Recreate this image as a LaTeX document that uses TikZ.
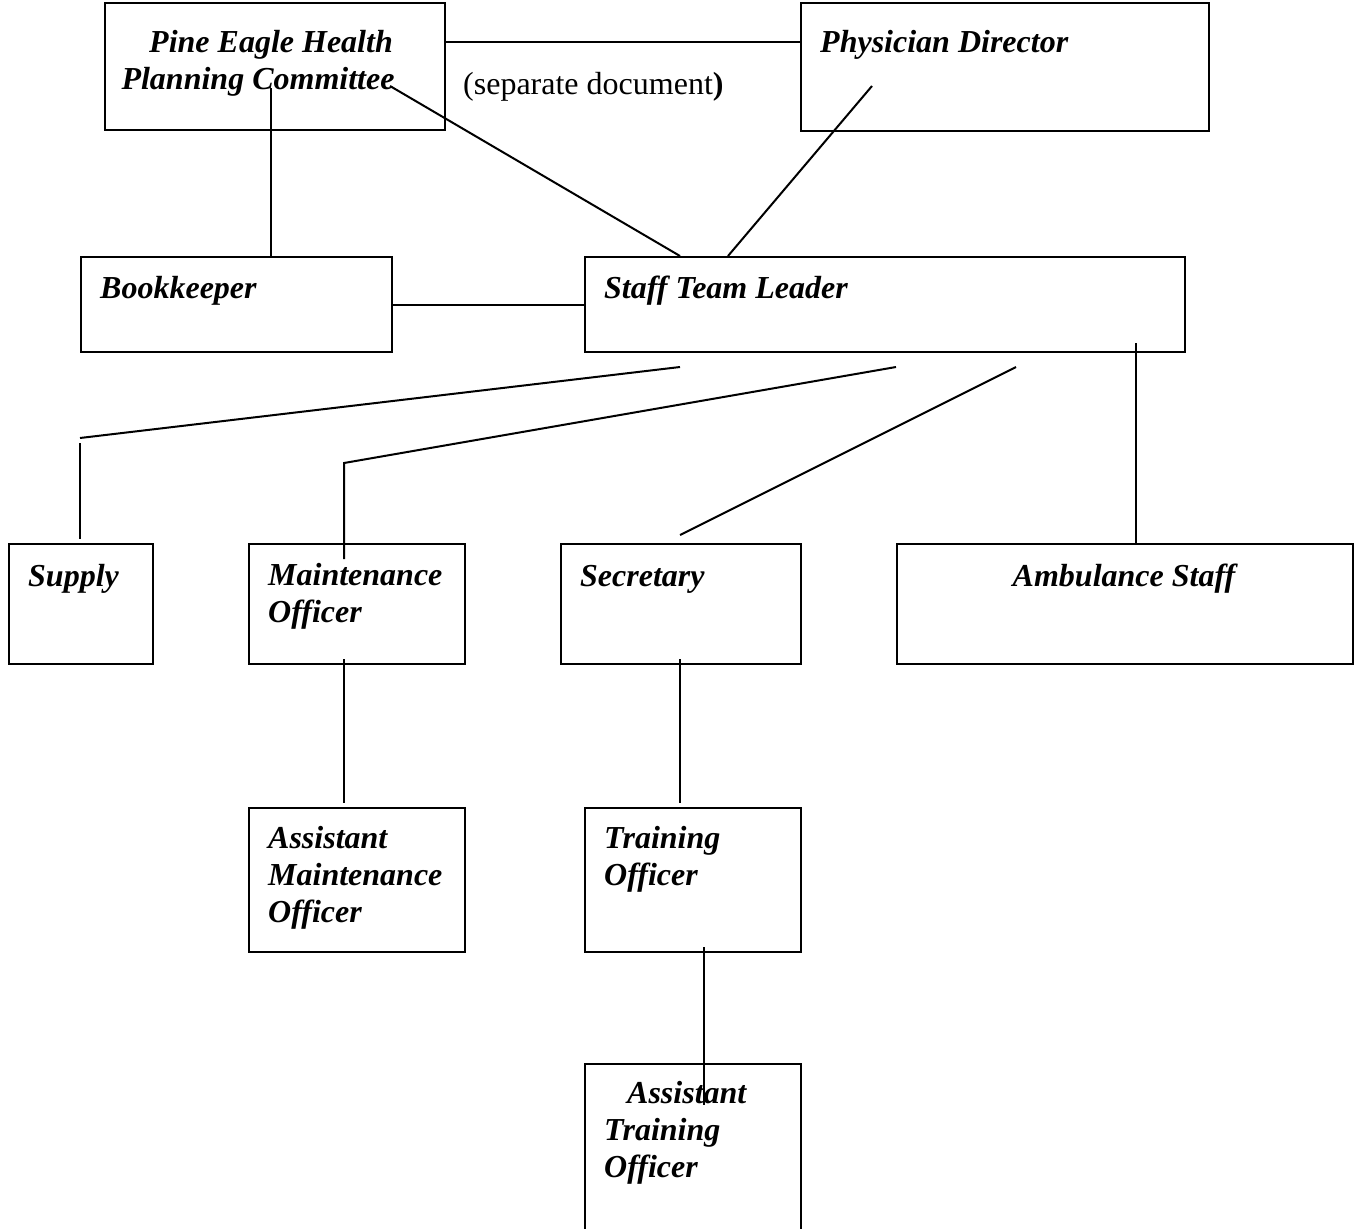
\documentclass[tikz,border=0pt]{standalone}
\usepackage{fontspec}
\setmainfont{Liberation Serif}

\tikzset{
  orgbox/.style={draw, line width=2.4pt, anchor=north west, inner sep=0pt},
  orgtext/.style={font=\fontsize{32}{37}\selectfont\bfseries\itshape, anchor=base west, align=left, inner sep=0pt},
  link/.style={line width=2pt}
}

\begin{document}
\begin{tikzpicture}[x=1pt,y=-1pt]
\useasboundingbox (0,0) rectangle (1355,1229);
\clip (0,0) rectangle (1355,1229);
% boxes
\node[orgbox, minimum width=340pt, minimum height=127pt] (pec) at (104,2) {};
\node[orgbox, minimum width=408pt, minimum height=128pt] (phys) at (800,2) {};
\node[orgbox, minimum width=311pt, minimum height=95pt] (bk) at (80,256) {};
\node[orgbox, minimum width=600pt, minimum height=95pt] (stl) at (584,256) {};
\node[orgbox, minimum width=144pt, minimum height=120pt] (sup) at (8,543) {};
\node[orgbox, minimum width=216pt, minimum height=120pt] (mnt) at (248,543) {};
\node[orgbox, minimum width=240pt, minimum height=120pt] (sec) at (560,543) {};
\node[orgbox, minimum width=456pt, minimum height=120pt] (amb) at (896,543) {};
\node[orgbox, minimum width=216pt, minimum height=144pt] (amnt) at (248,807) {};
\node[orgbox, minimum width=216pt, minimum height=144pt] (trn) at (584,807) {};
\node[orgbox, minimum width=216pt, minimum height=180pt] (atrn) at (584,1063) {};
% texts (multi-line ones sit on their last baseline)
\node[orgtext, align=center, anchor=base] (pec text) at (271,89) {Pine Eagle Health\\Planning Committee\hspace*{26pt}};
\node[orgtext] (phys text) at (820,52) {Physician Director};
\node[font=\fontsize{32}{37}\selectfont, anchor=base west, inner sep=0pt] (sepdoc) at (463,94) {(separate document\textbf{)}};
\node[orgtext] (bk text) at (100,298) {Bookkeeper};
\node[orgtext] (stl text) at (604,298) {Staff Team Leader};
\node[orgtext] (sup text) at (28,586) {Supply};
\node[orgtext] (mnt text) at (268,622) {Maintenance\\Officer};
\node[orgtext] (sec text) at (580,586) {Secretary};
\node[orgtext, anchor=base] (amb text) at (1124,586) {Ambulance Staff};
\node[orgtext] (amnt text) at (268,922) {Assistant\\Maintenance\\Officer};
\node[orgtext] (trn text) at (604,885) {Training\\Officer};
\node[orgtext] (atrn text) at (604,1177) {\hspace*{23pt}Assistant\\Training\\Officer};
% connector ends
\coordinate (pecR) at (444,42);
\coordinate (pecB) at (271,88);
\coordinate (pecC) at (390,86);
\coordinate (physA) at (872,86);
\coordinate (stlA) at (680,256);
\coordinate (stlB) at (728,256);
\coordinate (supA) at (680,367);
\coordinate (supB) at (80,438);
\coordinate (supC) at (80,443);
\coordinate (mntA) at (896,367);
\coordinate (mntB) at (344,463);
\coordinate (secA) at (1016,367);
\coordinate (secB) at (680,535);
\coordinate (ambA) at (1136,343);
\coordinate (amntA) at (344,659);
\coordinate (trnA) at (680,659);
\coordinate (atrnA) at (704,947);
% connectors
\draw[link] (pecR) -- (pecR -| phys.west);
\draw[link] (pecB) -- (pecB |- bk.north);
\draw[link] (pecC) -- (stlA);
\draw[link] (physA) -- (stlB);
\draw[link] (bk.east) -- (bk.east -| stl.west);
\draw[link] (supA) -- (supB);
\draw[link] (supC) -- ([yshift=4pt]supC |- sup.north);
\draw[link] (mntA) -- (mntB) -- ([yshift=-16pt]mntB |- mnt.north);
\draw[link] (secA) -- (secB);
\draw[link] (ambA) -- (ambA |- amb.north);
\draw[link] (amntA) -- ([yshift=4pt]amntA |- amnt.north);
\draw[link] (trnA) -- ([yshift=4pt]trnA |- trn.north);
\draw[link] (atrnA) -- ([yshift=-42pt]atrnA |- atrn.north);
\end{tikzpicture}
\end{document}
